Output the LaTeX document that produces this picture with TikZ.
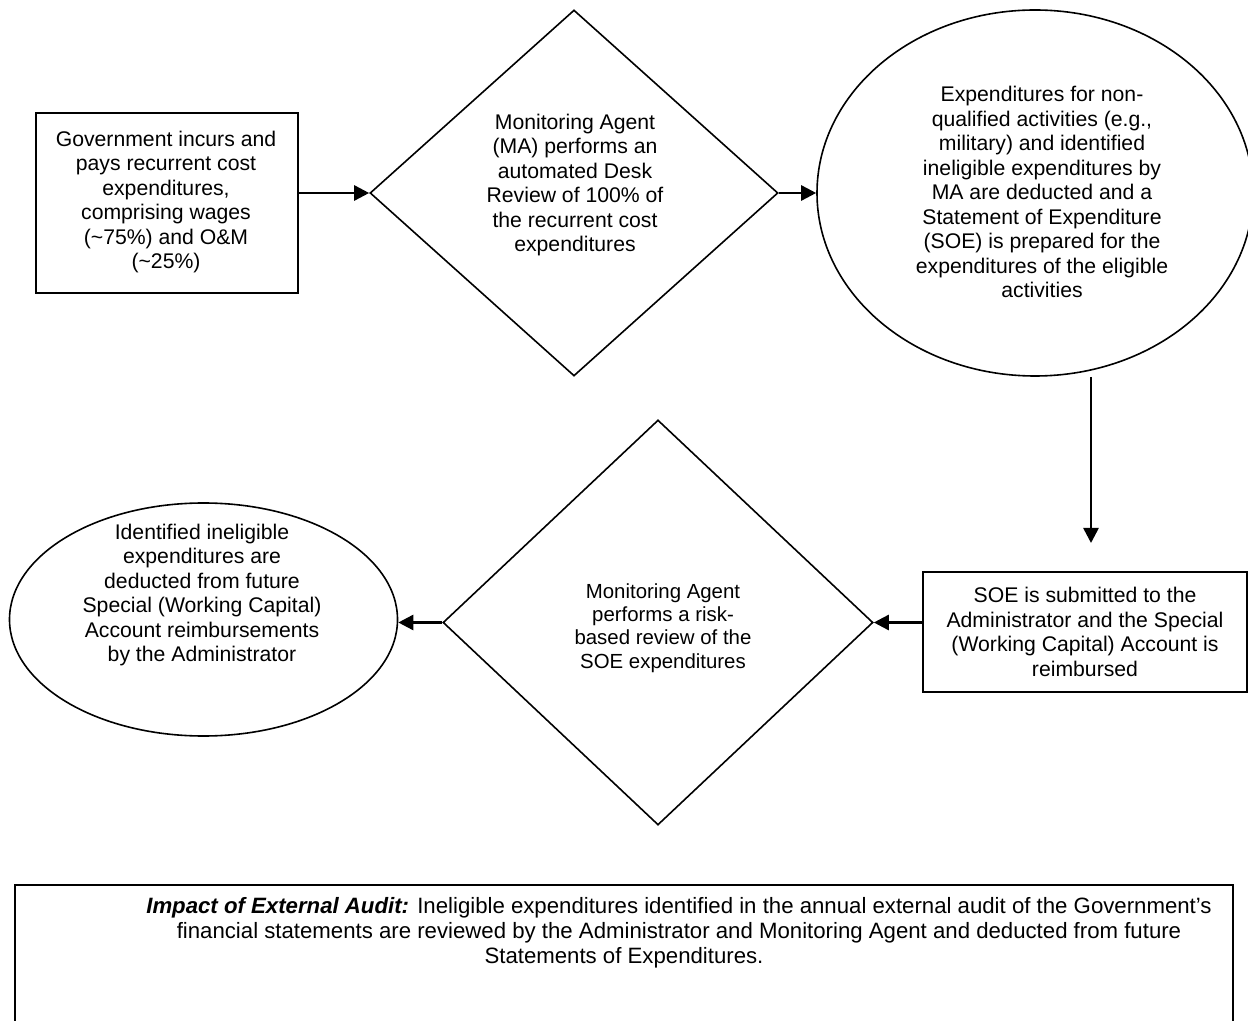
\documentclass[tikz,border=0pt]{standalone}
\usepackage{fontspec}
\setmainfont{Liberation Sans}
\usetikzlibrary{arrows.meta, positioning, shapes.geometric}

\begin{document}
\begin{tikzpicture}[
    x=0.5pt, y=-0.5pt,
    every node/.style={font=\fontsize{10.6}{12.25}\selectfont, align=center, inner sep=0pt},
    box/.style={rectangle, draw=black, line width=0.9pt},
    dmd/.style={diamond, draw=black, line width=0.8pt},
    oval/.style={ellipse, draw=black, line width=0.8pt},
    arr/.style={-{Triangle[length=7.5pt, width=7.5pt]}, line width=1.3pt}
  ]
    \useasboundingbox (0,0) rectangle (1248,1021);
    \clip (0,0) rectangle (1248,1021);
    \fill[white] (0,0) rectangle (1248,1021);

    % top row
    \node[box, minimum width=131pt, minimum height=90pt] (incur) at (167,203) {};
    \node (incurtxt) at (166,202) {Government incurs and\\ pays recurrent cost\\ expenditures,\\ comprising wages\\ (\textasciitilde75\%) and O\&M\\ (\textasciitilde25\%)};
    \node[dmd, minimum width=204pt, minimum height=183pt] (desk) at (574,193) {};
    \node (desktxt) at (575,185) {Monitoring Agent\\ (MA) performs an\\ automated Desk\\ Review of 100\% of\\ the recurrent cost\\ expenditures};
    \node[oval, minimum width=218pt, minimum height=183pt] (deduct) at (1035,193) {};
    \node (deducttxt) at (1042,192) {Expenditures for non-\\ qualified activities (e.g.,\\ military) and identified\\ ineligible expenditures by\\ MA are deducted and a\\ Statement of Expenditure\\ (SOE) is prepared for the\\ expenditures of the eligible\\ activities};

    % bottom row
    \node[box, minimum width=162pt, minimum height=60pt] (soe) at (1085,632) {SOE is submitted to the\\ Administrator and the Special\\ (Working Capital) Account is\\ reimbursed};
    \node[dmd, minimum width=215pt, minimum height=202.5pt] (risk) at (658,622.5) {};
    \node[font=\fontsize{10.2}{11.7}\selectfont] (risktxt) at (663,628) {Monitoring Agent\\ performs a risk-\\ based review of the\\ SOE expenditures};
    \node[oval, minimum width=194pt, minimum height=116.5pt] (future) at (203.5,619.5) {};
    \node (futuretxt) at (202,595) {Identified ineligible\\ expenditures are\\ deducted from future\\ Special (Working Capital)\\ Account reimbursements\\ by the Administrator};

    % audit box
    \coordinate (auditnw) at (15,885);
    \coordinate (auditse) at (1233,1060);
    \draw[line width=0.9pt] (auditnw) rectangle (auditse);
    \node[font=\fontsize{11.1}{12.5}\selectfont] (audit) at (624,933) {\hspace*{55pt}\textbf{\textit{Impact of External Audit:}} Ineligible expenditures identified in the annual external audit of the Government’s\\ \hspace*{55pt}financial statements are reviewed by the Administrator and Monitoring Agent and deducted from future\\ Statements of Expenditures.};

    % arrows
    \coordinate (down1) at (1091,377);
    \coordinate (down2) at (1091,543);
    \draw[arr] (desk.west -| incur.east) -- (desk.west);
    \draw[arr] (desk.east) -- (deduct.west);
    \draw[arr] (down1) -- (down2);
    \draw[arr] (soe.west |- risk.east) -- (risk.east);
    \draw[arr] (risk.west) -- (future.east |- risk.west);
  \end{tikzpicture}
\end{document}
